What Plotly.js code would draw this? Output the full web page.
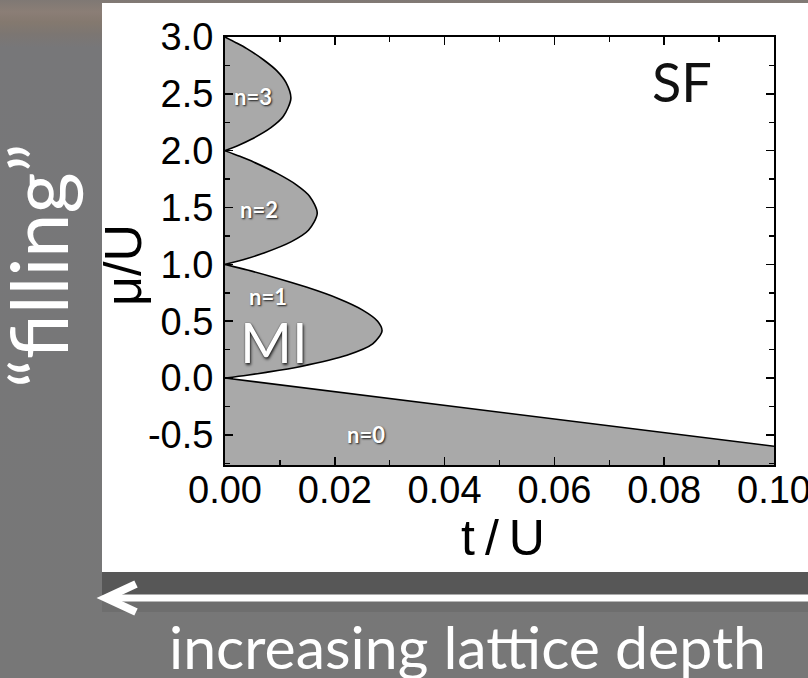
<!DOCTYPE html>
<html>
<head>
<meta charset="utf-8">
<script src="https://cdn.plot.ly/plotly-3.0.1.min.js"></script>
<style>
  html, body { margin: 0; padding: 0; width: 808px; height: 678px; overflow: hidden; }
  body {
    background: linear-gradient(to bottom, #7f7874 0px, #8b7e76 12px, #84796f 22px, #7c7672 34px, #777779 48px, #777 100%);
  }
  #chart { width: 808px; height: 678px; }
</style>
</head>
<body>
<div id="chart"></div>
<script>
// ---- Data (t/U vs mu/U) ----
// Mott lobe n=1 (boundary points)
const mu_n1 = [0.0, 0.025, 0.05, 0.1, 0.2, 0.3, 0.414, 0.5, 0.6, 0.7, 0.8, 0.9, 0.95, 1.0];
const t_n1  = [0.0, 0.0040, 0.0075, 0.0136, 0.0222, 0.0269, 0.0286, 0.0278, 0.0250, 0.0206, 0.0148, 0.0079, 0.0041, 0.0];
// Mott lobe n=2
const mu_n2 = [1.0, 1.05, 1.1, 1.2, 1.3, 1.45, 1.6, 1.7, 1.8, 1.9, 1.95, 2.0];
const t_n2  = [0.0, 0.0039, 0.0071, 0.0121, 0.0152, 0.0168, 0.0154, 0.0130, 0.0095, 0.0052, 0.0027, 0.0];
// Mott lobe n=3
const mu_n3 = [2.0, 2.05, 2.1, 2.2, 2.3, 2.46, 2.6, 2.7, 2.8, 2.9, 2.95, 3.0];
const t_n3  = [0.0, 0.0026, 0.0048, 0.0083, 0.0106, 0.0120, 0.0111, 0.0095, 0.0070, 0.0039, 0.0020, 0.0];
// n=0 boundary
const t_n0  = [0.0, 0.10];
const mu_n0 = [0.0, -0.60];

// axis settings
const xRange = [0, 0.10];
const yRange = [-0.765, 3.0];
const yTickVals = [-0.5, 0.0, 0.5, 1.0, 1.5, 2.0, 2.5, 3.0];
const yTickText = ['-0.5', '0.0', '0.5', '1.0', '1.5', '2.0', '2.5', '3.0'];
const xTickVals = [0.00, 0.02, 0.04, 0.06, 0.08, 0.10];
const xTickText = ['0.00', '0.02', '0.04', '0.06', '0.08', '0.10'];

// region labels
const lobeLabels = ["n=0", "n=1", "n=2", "n=3"];
const lobeLabelT  = [0.0257, 0.0079, 0.0062, 0.0051];
const lobeLabelMu = [-0.50, 0.715, 1.48, 2.475];

// ---- Layout geometry helpers (pixel -> paper) ----
const W = 808, H = 678;
const L = 225, R = 774, T = 37, B = 465;
const X = px => (px - L) / (R - L);
const Y = py => (B - py) / (B - T);

const fill = '#a9a9a9';
const traces = [];

// n=0 filled wedge
traces.push({
  x: [t_n0[0], t_n0[1], t_n0[1], t_n0[0]],
  y: [mu_n0[0], mu_n0[1], yRange[0] - 0.05, yRange[0] - 0.05],
  type: 'scatter', mode: 'lines', fill: 'toself', fillcolor: fill,
  line: { width: 0, color: fill }, hoverinfo: 'skip', showlegend: false
});
traces.push({
  x: t_n0, y: mu_n0, type: 'scatter', mode: 'lines',
  line: { color: '#000', width: 1.6 }, showlegend: false
});
[[t_n1, mu_n1], [t_n2, mu_n2], [t_n3, mu_n3]].forEach(([t, m]) => {
  traces.push({
    x: t, y: m, type: 'scatter', mode: 'lines', fill: 'toself', fillcolor: fill,
    line: { color: '#000', width: 1.6, shape: 'spline', smoothing: 0.8 },
    showlegend: false
  });
});

const tickFont = { family: 'Liberation Sans, Arial, sans-serif', size: 38, color: '#000' };
const shadowTxt = '1px 1px 2px rgba(0,0,0,0.85)';

const annotations = [];
lobeLabels.forEach((s, i) => {
  annotations.push({
    x: lobeLabelT[i], y: lobeLabelMu[i], xref: 'x', yref: 'y', text: s, showarrow: false,
    xanchor: 'center', yanchor: 'middle',
    font: { family: 'Lato, sans-serif', size: 22, weight: 700, color: '#fff', shadow: shadowTxt }
  });
});
const ann = (px, py, text, font, angle) => ({
  x: X(px), y: Y(py), xref: 'paper', yref: 'paper', text: text, showarrow: false,
  xanchor: 'center', yanchor: 'middle', textangle: angle || 0, font: font
});
annotations.push(
  ann(274, 341, 'MI', { family: 'Lato, sans-serif', size: 56, weight: 400, color: '#fff', shadow: '0px 0px 1px #111, 1px 2px 3px rgba(0,0,0,0.8)' }),
  ann(682, 81, 'SF', { family: 'Lato, sans-serif', size: 54, color: '#111' }),
  ann(503, 538, 't\u2009/\u2009U', { family: 'Liberation Sans, Arial, sans-serif', size: 50, color: '#000' }),
  ann(123, 265, '\u03bc/U', { family: 'Liberation Sans, Arial, sans-serif', size: 52, color: '#000' }, -90),
  ann(37, 266, '\u201cfilling\u201d', { family: 'Lato, sans-serif', size: 79, color: '#fff' }, -90),
  ann(467, 646, 'increasing lattice depth', { family: 'Lato, sans-serif', size: 59, color: '#fff' })
);

const shapes = [
  // white panel
  { type: 'rect', xref: 'paper', yref: 'paper', x0: X(102), x1: X(820), y0: Y(572), y1: Y(3),
    fillcolor: '#ffffff', line: { width: 0 }, layer: 'below' },
  // dark band below panel
  { type: 'rect', xref: 'paper', yref: 'paper', x0: X(102), x1: X(820), y0: Y(595), y1: Y(572),
    fillcolor: '#575757', line: { width: 0 }, layer: 'below' },
  // soft band below arrow
  { type: 'rect', xref: 'paper', yref: 'paper', x0: X(102), x1: X(820), y0: Y(612), y1: Y(600),
    fillcolor: '#6e6e6e', line: { width: 0 }, layer: 'below' },
  // arrow shaft
  { type: 'line', xref: 'paper', yref: 'paper', x0: X(108), x1: X(820), y0: Y(598), y1: Y(598),
    line: { color: '#fff', width: 7 }, layer: 'above' },
  // arrow head
  { type: 'path', xref: 'paper', yref: 'paper', layer: 'above',
    path: `M ${X(136)} ${Y(584)} L ${X(106)} ${Y(598)} L ${X(136)} ${Y(612)}`,
    line: { color: '#fff', width: 8 } }
];

const axisCommon = {
  showgrid: false, zeroline: false, showline: true, linecolor: '#000', linewidth: 2,
  mirror: 'allticks', ticks: 'inside', ticklen: 8, tickwidth: 1.5, tickcolor: '#000',
  tickfont: tickFont, tickmode: 'array', ticklabeloverflow: 'allow'
};

const layout = {
  width: W, height: H,
  margin: { l: L, r: W - R, t: T, b: H - B, pad: 0 },
  paper_bgcolor: 'rgba(0,0,0,0)', plot_bgcolor: 'rgba(0,0,0,0)',
  showlegend: false,
  xaxis: Object.assign({}, axisCommon, {
    range: xRange, tickvals: xTickVals, ticktext: xTickText, ticklabelstandoff: -10,
    minor: { tickmode: 'linear', tick0: 0, dtick: 0.01, ticks: 'inside', ticklen: 5, tickcolor: '#000', tickwidth: 1.5 }
  }),
  yaxis: Object.assign({}, axisCommon, {
    range: yRange, tickvals: yTickVals, ticktext: yTickText, ticklabelstandoff: 2,
    minor: { tickmode: 'linear', tick0: 0, dtick: 0.25, ticks: 'inside', ticklen: 5, tickcolor: '#000', tickwidth: 1.5 }
  }),
  annotations: annotations,
  shapes: shapes
};

Plotly.newPlot('chart', traces, layout, { staticPlot: true, displayModeBar: false });
</script>
</body>
</html>
